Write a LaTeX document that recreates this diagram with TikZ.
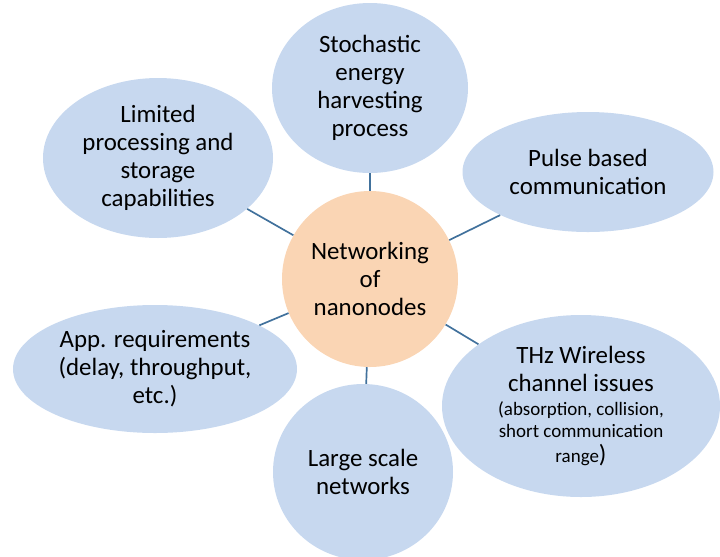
\documentclass[tikz,border=0pt]{standalone}
\usepackage{fontspec}
\setmainfont{Carlito}
\usepackage{tikz}
\usetikzlibrary{shapes,positioning}
\usepackage{xcolor}
\definecolor{nnblue}{RGB}{199,216,239}
\definecolor{nnpeach}{RGB}{250,213,180}
\definecolor{nnline}{RGB}{65,113,156}
\tikzstyle{bubble} = [ellipse,fill=nnblue,inner sep=0pt,align=center,font=\fontsize{17.7}{20}\selectfont]
\tikzstyle{hub} = [circle,fill=nnpeach,inner sep=0pt,minimum size=4.4cm,align=center,font=\fontsize{17.7}{20}\selectfont]
\tikzstyle{link} = [line width=1.2pt,color=nnline]

\begin{document}
\begin{tikzpicture}
\useasboundingbox (0,0) rectangle (18,-13.9);
% Centre
\node[hub] (hub) at (9.25,-6.975) {Networking\\of\\nanonodes};

% Surrounding issues
\node[bubble, minimum width=4.9cm, minimum height=4.25cm] (harvest) at (9.25,-2.2) {Stochastic\\energy\\harvesting\\process};
\node[bubble, minimum width=5.75cm, minimum height=4cm] (limited) at (3.95,-3.95) {Limited\\processing and\\storage\\capabilities};
\node[bubble, minimum width=6.275cm, minimum height=3cm] (pulse) at (14.7,-4.3) {Pulse based\\communication};
\node[bubble, minimum width=6.95cm, minimum height=4.55cm] (thz) at (14.525,-10.15) {THz Wireless\\channel issues\\[-3pt]{\fontsize{13.5}{14.5}\selectfont (absorption, collision,}\\[-4pt]{\fontsize{13.5}{14.5}\selectfont short communication}\\[-2pt]{\fontsize{13.5}{14.5}\selectfont range})};
\node[bubble, minimum width=7.1cm, minimum height=3.2cm] (app) at (3.875,-9.225) {App. requirements\\(delay, throughput,\\etc.)};
\node[bubble, minimum width=4.5cm, minimum height=4.4cm] (scale) at (9.075,-11.8) {Large scale\\networks};

% Links
\draw[link] (hub) -- (harvest);
\draw[link] (hub) -- (limited);
\draw[link] (hub) -- (pulse);
\draw[link] (hub) -- (thz);
\draw[link] (hub) -- (app);
\draw[link] (hub) -- (scale);
\end{tikzpicture}
\end{document}
